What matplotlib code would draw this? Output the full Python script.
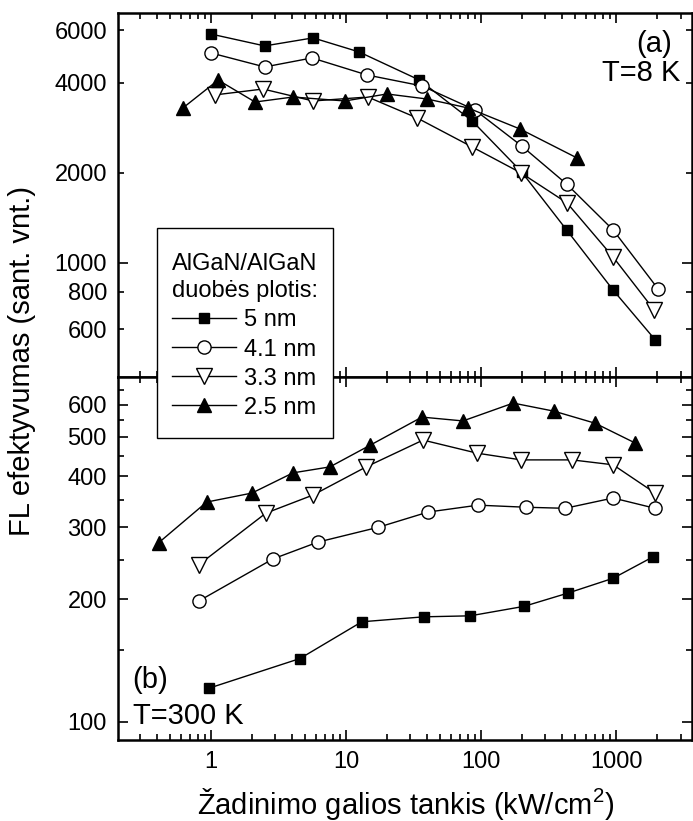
import matplotlib
matplotlib.use('Agg')
import matplotlib.pyplot as plt
from matplotlib.patches import Rectangle
from matplotlib.ticker import FixedLocator, LogLocator, NullFormatter, FuncFormatter

plt.rcParams['font.family'] = ['Liberation Sans', 'DejaVu Sans']
plt.rcParams['mathtext.fontset'] = 'custom'
plt.rcParams['mathtext.rm'] = 'Liberation Sans'

# (a) T = 8 K
sq_a_x = [1.0, 2.5, 5.7, 12.5, 35, 86, 200, 430, 950, 1950]
sq_a_y = [5830, 5320, 5660, 5080, 4090, 2985, 2015, 1290, 812, 553]
ci_a_x = [1.0, 2.5, 5.6, 14.3, 36.5, 90, 200, 430, 950, 2050]
ci_a_y = [5040, 4525, 4850, 4254, 3910, 3250, 2462, 1837, 1290, 818]
tr_a_x = [1.07, 2.43, 5.7, 14.5, 33.6, 86, 198, 433, 950, 1910]
tr_a_y = [3648, 3818, 3482, 3590, 3055, 2443, 2000, 1588, 1047, 697]
tu_a_x = [0.62, 1.13, 2.12, 4.05, 9.8, 20.1, 39.8, 80, 194, 514]
tu_a_y = [3300, 4090, 3454, 3590, 3482, 3675, 3535, 3300, 2807, 2245]

# (b) T = 300 K
sq_b_x = [0.97, 4.56, 13.1, 37.8, 83, 208, 441, 950, 1880]
sq_b_y = [121, 143, 176, 181, 182, 192, 207, 225, 254]
ci_b_x = [0.815, 2.88, 6.2, 17.3, 40.5, 95, 216, 419, 950, 1945]
ci_b_y = [198, 251, 276, 300, 327, 340, 336, 334, 354, 334]
tr_b_x = [0.815, 2.55, 5.7, 14.1, 37.2, 93.4, 198, 472, 950, 1945]
tr_b_y = [243, 325, 360, 422, 491, 456, 439, 439, 427, 364]
tu_b_x = [0.41, 0.93, 2.01, 4.05, 7.6, 15.1, 36.5, 73.5, 173, 347, 699, 1383]
tu_b_y = [275, 346, 364, 408, 422, 477, 559, 547, 605, 578, 540, 483]

labels = ['5 nm', '4.1 nm', '3.3 nm', '2.5 nm']

styles = [dict(marker='s', ms=7, mfc='black'),
          dict(marker='o', ms=9.5, mfc='white'),
          dict(marker='v', ms=11, mfc='white'),
          dict(marker='^', ms=10, mfc='black')]

fig = plt.figure(figsize=(6.93, 8.21), dpi=100)
ax_a = fig.add_axes([0.1703, 0.5408, 0.8283, 0.4434])
ax_b = fig.add_axes([0.1703, 0.0987, 0.8283, 0.4421])


def style_axes(ax, ylim, major, minor, minor_labels):
    ax.set_xscale('log')
    ax.set_yscale('log')
    ax.set_xlim(0.205, 3650)
    ax.set_ylim(*ylim)
    ax.xaxis.set_major_locator(FixedLocator([1, 10, 100, 1000]))
    ax.xaxis.set_major_formatter(FuncFormatter(lambda v, p: f'{v:g}'))
    ax.xaxis.set_minor_locator(LogLocator(base=10, subs=range(2, 10), numticks=30))
    ax.xaxis.set_minor_formatter(NullFormatter())
    ax.yaxis.set_major_locator(FixedLocator(major))
    ax.yaxis.set_major_formatter(FuncFormatter(lambda v, p: f'{v:g}'))
    ax.yaxis.set_minor_locator(FixedLocator(minor))
    if minor_labels:
        ax.yaxis.set_minor_formatter(FuncFormatter(lambda v, p: f'{v:g}'))
    else:
        ax.yaxis.set_minor_formatter(NullFormatter())
    ax.tick_params(which='both', direction='in', top=True, right=True,
                   width=1.2, labelsize=17, pad=8)
    ax.tick_params(which='major', length=7)
    ax.tick_params(which='minor', length=4)
    ax.tick_params(axis='y', which='minor', labelright=False)
    for s in ax.spines.values():
        s.set_linewidth(1.8)


top_data = [(sq_a_x, sq_a_y), (ci_a_x, ci_a_y), (tr_a_x, tr_a_y), (tu_a_x, tu_a_y)]
bot_data = [(sq_b_x, sq_b_y), (ci_b_x, ci_b_y), (tr_b_x, tr_b_y), (tu_b_x, tu_b_y)]

handles = []
for (x, y), st, lab in zip(top_data, styles, labels):
    h, = ax_a.plot(x, y, color='black', lw=1.0, mec='black', mew=1.0, label=lab, **st)
    handles.append(h)
for (x, y), st in zip(bot_data, styles):
    ax_b.plot(x, y, color='black', lw=1.0, mec='black', mew=1.0, **st)

style_axes(ax_a, (415.6, 6857), [1000], [600, 800, 2000, 4000, 6000], True)
style_axes(ax_b, (90.3, 701), [100, 200, 300, 400, 500, 600],
           [150, 250, 350, 450, 550, 650], False)
ax_a.tick_params(labelbottom=False)

ax_a.text(0.965, 0.915, '(a)', transform=ax_a.transAxes, ha='right', va='center', fontsize=21)
ax_a.text(0.979, 0.835, 'T=8 K', transform=ax_a.transAxes, ha='right', va='center', fontsize=21)
ax_b.text(0.024, 0.165, '(b)', transform=ax_b.transAxes, ha='left', va='center', fontsize=21)
ax_b.text(0.026, 0.066, 'T=300 K', transform=ax_b.transAxes, ha='left', va='center', fontsize=21)

fig.text(0.032, 0.560, 'FL efektyvumas (sant. vnt.)', rotation=90,
         ha='center', va='center', fontsize=21)
fig.text(0.585, 0.008, r'Žadinimo galios tankis (kW/cm$^\mathregular{2}$)',
         ha='center', va='baseline', fontsize=21)

# legend box spans both panels
box = Rectangle((0.2266, 0.4665), 0.2540, 0.2558, transform=fig.transFigure,
                facecolor='white', edgecolor='black', linewidth=1.0, zorder=4)
fig.patches.append(box)

leg = fig.legend(handles, labels, loc='upper left', bbox_to_anchor=(0.2482, 0.6915),
                 title='AlGaN/AlGaN\nduobės plotis:', alignment='left',
                 fontsize=17, title_fontsize=17, frameon=False,
                 borderpad=0, handlelength=2.7, handletextpad=0.35,
                 labelspacing=0.3, borderaxespad=0)
leg.get_title().set_linespacing(1.3)
leg.set_zorder(5)

fig.savefig('out.png', dpi=100)
